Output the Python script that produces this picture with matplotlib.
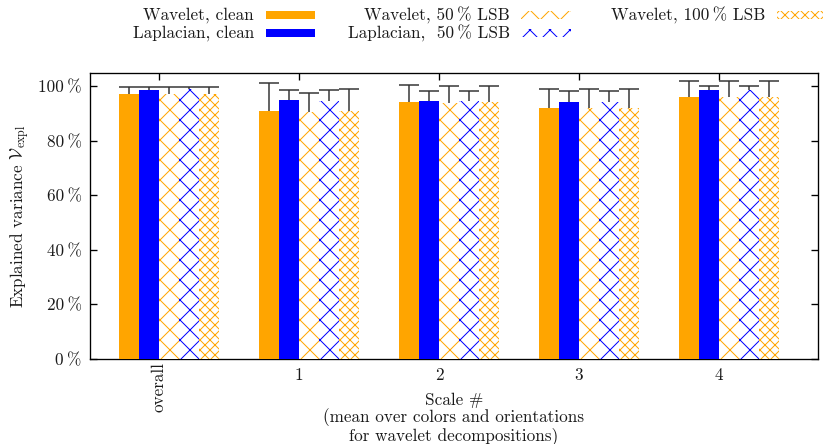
import matplotlib
matplotlib.use("Agg")
import matplotlib.pyplot as plt
from matplotlib.patches import Rectangle
from matplotlib.transforms import blended_transform_factory, ScaledTranslation
import numpy as np

# ---- data ----
groups = ["overall", "1", "2", "3", "4"]
series_labels = ["Wavelet, clean", "Laplacian, clean", "Wavelet, 50\u2009% LSB",
                 "Laplacian,  50\u2009% LSB", "Wavelet, 100\u2009% LSB"]
wavelet_clean = [97.2, 90.8, 94.1, 91.9, 95.9]
laplacian_clean = [98.6, 94.9, 94.5, 94.1, 98.5]
wavelet_50 = [97.2, 90.6, 93.9, 92.1, 95.9]
laplacian_50 = [98.9, 94.4, 94.5, 94.1, 98.5]
wavelet_100 = [97.2, 90.8, 94.0, 91.8, 95.9]
wavelet_clean_err = [2.3, 10.4, 6.3, 7.1, 5.8]
laplacian_clean_err = [0.9, 3.7, 3.7, 4.1, 1.6]
wavelet_50_err = [2.3, 7.0, 6.2, 6.9, 5.8]
laplacian_50_err = [0.6, 4.1, 3.7, 4.2, 1.6]
wavelet_100_err = [2.3, 8.2, 6.2, 7.2, 5.8]
yticks = [0, 20, 40, 60, 80, 100]

ORANGE = "#FFA500"
BLUE = "#0000FF"
TXT = "#1a1a1a"

plt.rcParams['font.family'] = ['cmr10', 'DejaVu Serif']
plt.rcParams['mathtext.fontset'] = 'cm'
plt.rcParams['axes.unicode_minus'] = False
plt.rcParams['hatch.linewidth'] = 0.6

W, H, DPI = 826, 444, 120
fig = plt.figure(figsize=(W / DPI, H / DPI), dpi=DPI)
ax = fig.add_axes([90 / W, 1 - 359 / H, (818 - 90) / W, (359 - 73) / H])

styles = [
    dict(color=ORANGE, hatch=None),
    dict(color=BLUE, hatch=None),
    dict(color=ORANGE, hatch='xx'),
    dict(color=BLUE, hatch='xx'),
    dict(color=ORANGE, hatch='xxxx'),
]
values = [wavelet_clean, laplacian_clean, wavelet_50, laplacian_50, wavelet_100]
errs = [wavelet_clean_err, laplacian_clean_err, wavelet_50_err, laplacian_50_err, wavelet_100_err]

x = np.arange(len(groups))
bw = 1 / 7
for j, (vals, err, st) in enumerate(zip(values, errs, styles)):
    xs = x + (j - 1.5) * bw
    if st['hatch'] is None:
        ax.bar(xs, vals, width=bw, color=st['color'], linewidth=0, zorder=3)
    else:
        ax.bar(xs, vals, width=bw, facecolor='white', edgecolor=st['color'],
               hatch=st['hatch'], linewidth=0, zorder=3)
    ax.errorbar(xs, vals, yerr=err, fmt='none', ecolor='#333333',
                elinewidth=0.9, capsize=6, capthick=0.9, zorder=2)

ax.set_xlim(-0.493, 4.707)
ax.set_ylim(0, 104.8)
ax.set_yticks(yticks)
ax.set_yticklabels([f"{v}\u2009%" for v in yticks], fontsize=10.3, color=TXT)
ax.set_xticks(x)
ax.set_xticklabels([""] + groups[1:], fontsize=10.3, color=TXT)
# rotated first group label, hanging just below the axis
tr = blended_transform_factory(ax.transData, ax.transAxes) + \
    ScaledTranslation(0, -3 / DPI, fig.dpi_scale_trans)
ax.text(x[0], 0, groups[0], transform=tr, rotation=90, ha='center', va='top',
        fontsize=10.3, color=TXT)
ax.tick_params(axis='both', direction='in', length=4, width=0.8,
               top=True, right=True, colors='black', labelcolor=TXT)
ax.tick_params(axis='x', pad=5.4)
ax.tick_params(axis='y', pad=5)
for s in ax.spines.values():
    s.set_linewidth(0.8)

ax.set_ylabel(r"Explained variance $\mathcal{V}_{\mathrm{expl}}$", fontsize=10.3, color=TXT)
ax.yaxis.set_label_coords(-0.080, 0.5)
ax.set_xlabel("Scale #\n(mean over colors and orientations\nfor wavelet decompositions)",
              fontsize=10.3, color=TXT, linespacing=1.05)
ax.xaxis.set_label_coords(0.5, -0.117)
ax.xaxis.label.set_va('top')

# ---- manual gnuplot-style key ----
def fx(px):
    return px / W

def fy(py):
    return 1 - py / H

key = [
    (254, 15, 266, 315),
    (254, 33, 266, 315),
    (510, 15, 521, 571),
    (510, 33, 521, 571),
    (765, 15, 777, 823),
]
for (tx, ty, x0, x1), lab, st in zip(key, series_labels, styles):
    fig.text(fx(tx), fy(ty), lab, ha='right', va='center', fontsize=10.3, color=TXT)
    if st['hatch'] is None:
        r = Rectangle((fx(x0), fy(ty + 4)), fx(x1) - fx(x0), fy(ty - 4) - fy(ty + 4),
                      transform=fig.transFigure, facecolor=st['color'], linewidth=0)
    else:
        r = Rectangle((fx(x0), fy(ty + 4)), fx(x1) - fx(x0), fy(ty - 4) - fy(ty + 4),
                      transform=fig.transFigure, facecolor='white', edgecolor=st['color'],
                      hatch=st['hatch'], linewidth=0)
    fig.patches.append(r)

fig.savefig("out.png", dpi=DPI)
